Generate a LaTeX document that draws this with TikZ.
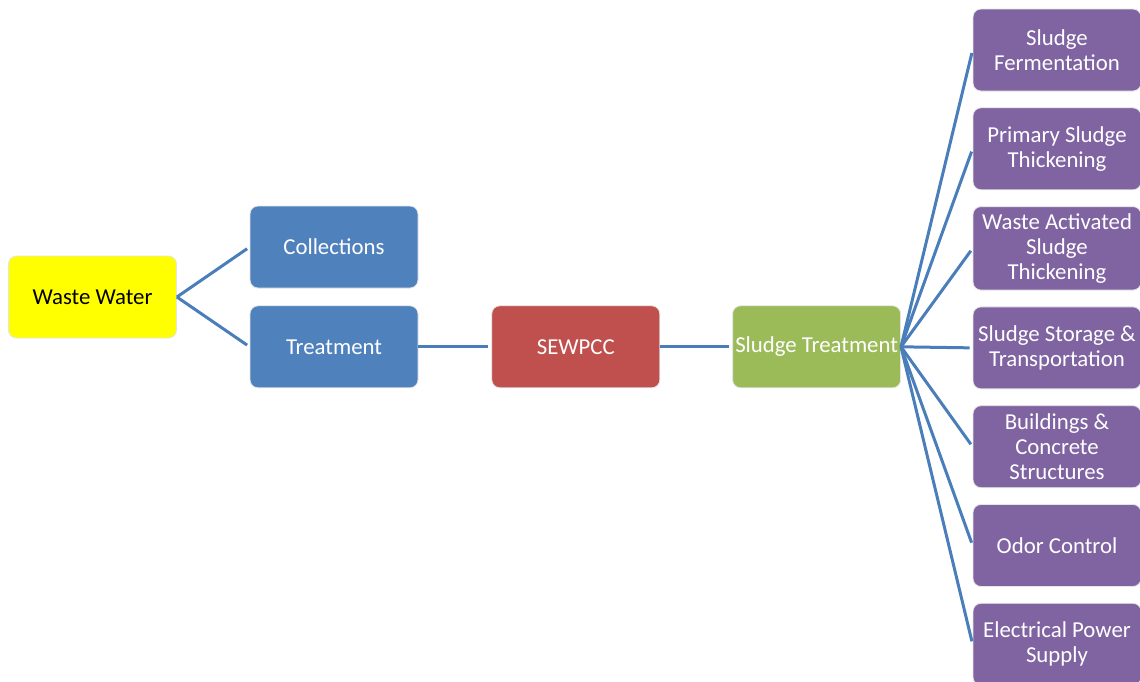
\documentclass[tikz,border=0pt]{standalone}
\usepackage{fontspec}
\setmainfont{Carlito}
\usepackage{tikz}
\usetikzlibrary{positioning}
\usepackage{xcolor}

\definecolor{wwyellow}{HTML}{FFFF00}
\definecolor{boxblue}{HTML}{4F81BD}
\definecolor{boxred}{HTML}{C0504D}
\definecolor{boxgreen}{HTML}{9BBB59}
\definecolor{boxpurple}{HTML}{8064A2}
\definecolor{linkblue}{HTML}{4A7EBB}

\begin{document}
\begin{tikzpicture}[x=0.5pt,y=-0.5pt]
	\useasboundingbox (0,0) rectangle (1140,681);
	\begin{scope}[every node/.style={rectangle,rounded corners=4pt,draw=white!90!black,line width=0.4pt,minimum height=41pt,minimum width=84pt,inner xsep=0.5pt,align=center,text=white,font=\fontsize{11.4}{12.6}\selectfont}]
		\node[fill=wwyellow,text=black] (ww) at (92.5,297) {Waste Water};
		\node[fill=boxblue] (coll) at (334,247) {Collections};
		\node[fill=boxblue,below =8.5pt of coll] (treat) {Treatment};
		\node[fill=boxred,right =36.5pt of treat] (sewpcc) {SEWPCC};
		\node[fill=boxgreen,right =36pt of sewpcc] (sludge) {Sludge Treatment};
		\node[fill=boxpurple] (ferm) at (1057,50) {Sludge\\Fermentation};
		\node[fill=boxpurple,below =8pt of ferm] (primary) {Primary Sludge\\Thickening};
		\node[fill=boxpurple,below =8pt of primary] (was) {Waste Activated\\Sludge\\Thickening};
		\node[fill=boxpurple,below =8pt of was] (storage) {Sludge Storage \&\\Transportation};
		\node[fill=boxpurple,below =8pt of storage] (build) {Buildings \&\\Concrete\\Structures};
		\node[fill=boxpurple,below =8pt of build] (odor) {Odor Control};
		\node[fill=boxpurple,below =8pt of odor] (power) {Electrical Power\\Supply};
	\end{scope}

	\begin{scope}[linkblue,line width=1.5pt,shorten >=1.5pt]
	\draw (ww.east) edge (coll.west);
	\draw (ww.east) edge (treat.west);
	\draw (treat) edge (sewpcc);
	\draw (sewpcc) edge (sludge);
	\foreach \sub in {ferm,primary,was,storage,build,odor,power}
		\draw (sludge.east) -- (\sub.west);
	\end{scope}
\end{tikzpicture}
\end{document}
